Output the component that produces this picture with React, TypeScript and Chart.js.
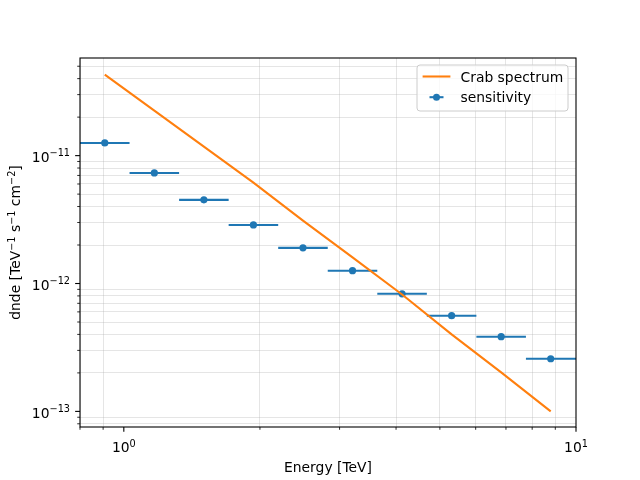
import React, { useEffect, useRef } from "react";
import { Chart, registerables } from "chart.js";

Chart.register(...registerables);

// ---- data ----
const energyLo = [0.8, 1.0296, 1.3251, 1.7054, 2.1948, 2.8247, 3.6354, 4.6787, 6.0214, 7.7495];
const energyHi = [1.0296, 1.3251, 1.7054, 2.1948, 2.8247, 3.6354, 4.6787, 6.0214, 7.7495, 10.0];
const energy = [0.9076, 1.1681, 1.5033, 1.9347, 2.49, 3.2046, 4.1243, 5.3079, 6.8312, 8.7917];
const sensitivity = [1.256e-11, 7.32e-12, 4.51e-12, 2.87e-12, 1.9e-12, 1.26e-12, 8.31e-13, 5.6e-13, 3.84e-13, 2.58e-13];
const crab = [4.3e-11, 2.25e-11, 1.175e-11, 6.15e-12, 3.1e-12, 1.6e-12, 8.2e-13, 4.0e-13, 2.02e-13, 1.0e-13];

const xMajor = [1, 10];
const xMajorExp = ["0", "1"];
const yMajor = [1e-13, 1e-12, 1e-11];
const yMajorExp = ["\u221213", "\u221212", "\u221211"];
const xTickValues = [0.8, 0.9, 1, 2, 3, 4, 5, 6, 7, 8, 9, 10];
const yTickValues = [
  8e-14, 9e-14,
  1e-13, 2e-13, 3e-13, 4e-13, 5e-13, 6e-13, 7e-13, 8e-13, 9e-13,
  1e-12, 2e-12, 3e-12, 4e-12, 5e-12, 6e-12, 7e-12, 8e-12, 9e-12,
  1e-11, 2e-11, 3e-11, 4e-11, 5e-11,
];
const yTitleParts: [string, boolean][] = [
  ["dnde [TeV", false], ["\u22121", true], [" s", false], ["\u22121", true],
  [" cm", false], ["\u22122", true], ["]", false],
];

const BLUE = "#1f77b4";
const ORANGE = "#ff7f0e";
const FONT = "DejaVu Sans";
const FS = 13.89;
const SFS = 9.72;
const GRID = "rgba(176,176,176,0.33)";

const majorIndex = (v: number, majors: number[]) =>
  majors.findIndex((m) => Math.abs(v / m - 1) < 1e-6);

function richWidth(ctx: any, parts: [string, boolean][]) {
  let w = 0;
  parts.forEach(([t, sup]) => {
    ctx.font = `${sup ? SFS : FS}px "${FONT}"`;
    w += ctx.measureText(t).width;
  });
  return w;
}

function drawRich(ctx: any, parts: [string, boolean][], x: number, baseline: number, raise: number) {
  let cx = x;
  parts.forEach(([t, sup]) => {
    ctx.font = `${sup ? SFS : FS}px "${FONT}"`;
    ctx.fillText(t, cx, sup ? baseline - raise : baseline);
    cx += ctx.measureText(t).width;
  });
}

const framePlugin = {
  id: "frame",
  afterDatasetsDraw(chart: any) {
    const ctx = chart.ctx;
    const { left, right, top, bottom } = chart.chartArea;
    const xs = chart.scales.x;
    const ys = chart.scales.y;
    ctx.save();
    ctx.strokeStyle = "#000";
    xs.ticks.forEach((t: any) => {
      const major = majorIndex(t.value, xMajor) >= 0;
      const px = xs.getPixelForValue(t.value);
      ctx.lineWidth = major ? 1.1 : 0.83;
      ctx.beginPath();
      ctx.moveTo(px, bottom);
      ctx.lineTo(px, bottom + (major ? 4.86 : 2.78));
      ctx.stroke();
    });
    ys.ticks.forEach((t: any) => {
      const major = majorIndex(t.value, yMajor) >= 0;
      const py = ys.getPixelForValue(t.value);
      ctx.lineWidth = major ? 1.1 : 0.83;
      ctx.beginPath();
      ctx.moveTo(left, py);
      ctx.lineTo(left - (major ? 4.86 : 2.78), py);
      ctx.stroke();
    });
    ctx.lineWidth = 1.1;
    ctx.strokeRect(left, top, right - left, bottom - top);
    ctx.restore();
  },
  afterDraw(chart: any) {
    const ctx = chart.ctx;
    const { left, top, bottom } = chart.chartArea;
    const xs = chart.scales.x;
    const ys = chart.scales.y;
    ctx.save();
    ctx.fillStyle = "#000";
    ctx.textAlign = "left";
    ctx.textBaseline = "alphabetic";

    // x tick labels
    xMajor.forEach((v, i) => {
      const parts: [string, boolean][] = [["10", false], [xMajorExp[i], true]];
      const w = richWidth(ctx, parts);
      const px = xs.getPixelForValue(v);
      drawRich(ctx, parts, px - w / 2, bottom + 24.7, 5.2);
    });
    // y tick labels
    yMajor.forEach((v, i) => {
      const parts: [string, boolean][] = [["10", false], [yMajorExp[i], true]];
      const w = richWidth(ctx, parts);
      const py = ys.getPixelForValue(v);
      drawRich(ctx, parts, left - 10 - w, py + 6.5, 6.0);
    });
    // y title
    ctx.save();
    const midY = (top + bottom) / 2;
    ctx.translate(20, midY);
    ctx.rotate(-Math.PI / 2);
    const tw = richWidth(ctx, yTitleParts);
    drawRich(ctx, yTitleParts, -tw / 2, 0, 5.5);
    ctx.restore();

    // legend
    const bx = 417, by = 65, bw = 151, bh = 46, r = 3;
    ctx.beginPath();
    ctx.moveTo(bx + r, by);
    ctx.lineTo(bx + bw - r, by);
    ctx.arcTo(bx + bw, by, bx + bw, by + r, r);
    ctx.lineTo(bx + bw, by + bh - r);
    ctx.arcTo(bx + bw, by + bh, bx + bw - r, by + bh, r);
    ctx.lineTo(bx + r, by + bh);
    ctx.arcTo(bx, by + bh, bx, by + bh - r, r);
    ctx.lineTo(bx, by + r);
    ctx.arcTo(bx, by, bx + r, by, r);
    ctx.closePath();
    ctx.fillStyle = "rgba(255,255,255,0.8)";
    ctx.fill();
    ctx.strokeStyle = "#cccccc";
    ctx.lineWidth = 1;
    ctx.stroke();

    ctx.strokeStyle = ORANGE;
    ctx.lineWidth = 2.08;
    ctx.beginPath();
    ctx.moveTo(422.6, 76.5);
    ctx.lineTo(450.4, 76.5);
    ctx.stroke();
    ctx.strokeStyle = BLUE;
    ctx.beginPath();
    ctx.moveTo(429.5, 97.2);
    ctx.lineTo(443.5, 97.2);
    ctx.stroke();
    ctx.fillStyle = BLUE;
    ctx.beginPath();
    ctx.arc(436.5, 97.2, 3.5, 0, Math.PI * 2);
    ctx.fill();

    ctx.fillStyle = "#000";
    ctx.font = `${FS}px "${FONT}"`;
    ctx.fillText("Crab spectrum", 460.5, 81.7);
    ctx.fillText("sensitivity", 460.5, 102.3);
    ctx.restore();
  },
};

export default function App() {
  const ref = useRef<HTMLCanvasElement | null>(null);

  useEffect(() => {
    if (!ref.current) return;
    const bars: any[] = [];
    for (let i = 0; i < energy.length; i++) {
      bars.push({ x: energyLo[i], y: sensitivity[i] });
      bars.push({ x: energyHi[i], y: sensitivity[i] });
      bars.push({ x: energyHi[i], y: null });
    }
    const chart = new Chart(ref.current, {
      type: "scatter",
      data: {
        datasets: [
          {
            label: "Crab spectrum",
            data: energy.map((e, i) => ({ x: e, y: crab[i] })),
            showLine: true,
            borderColor: ORANGE,
            backgroundColor: ORANGE,
            borderWidth: 2.08,
            pointRadius: 0,
          },
          {
            label: "sensitivity bars",
            data: bars,
            showLine: true,
            spanGaps: false,
            borderColor: BLUE,
            borderWidth: 2.08,
            borderCapStyle: "butt",
            pointRadius: 0,
          },
          {
            label: "sensitivity",
            data: energy.map((e, i) => ({ x: e, y: sensitivity[i] })),
            showLine: false,
            pointRadius: 3.6,
            pointBackgroundColor: BLUE,
            pointBorderWidth: 0,
            backgroundColor: BLUE,
          },
        ],
      } as any,
      options: {
        animation: false,
        responsive: true,
        maintainAspectRatio: false,
        layout: { padding: { top: 58, right: 64, left: 0, bottom: 0 } },
        plugins: { legend: { display: false }, tooltip: { enabled: false } },
        scales: {
          x: {
            type: "logarithmic",
            min: 0.8,
            max: 10,
            afterBuildTicks: (s: any) => {
              s.ticks = xTickValues.map((v) => ({ value: v, major: majorIndex(v, xMajor) >= 0 }));
            },
            afterFit: (s: any) => {
              s.height = 53;
            },
            grid: {
              drawTicks: false,
              color: (c: any) =>
                c.tick && majorIndex(c.tick.value, xMajor) >= 0 ? "rgba(0,0,0,0)" : GRID,
              lineWidth: 1,
            },
            border: { display: false },
            ticks: { display: false, autoSkip: false },
            title: {
              display: true,
              text: "Energy [TeV]",
              color: "#000",
              font: { family: FONT, size: FS },
              padding: { top: 0, bottom: 3.2 },
            },
          },
          y: {
            type: "logarithmic",
            min: 7.55e-14,
            max: 5.8e-11,
            afterBuildTicks: (s: any) => {
              s.ticks = yTickValues.map((v) => ({ value: v, major: majorIndex(v, yMajor) >= 0 }));
            },
            afterFit: (s: any) => {
              s.width = 80;
            },
            grid: {
              drawTicks: false,
              color: (c: any) =>
                c.tick && majorIndex(c.tick.value, yMajor) >= 0 ? "rgba(0,0,0,0)" : GRID,
              lineWidth: 1,
            },
            border: { display: false },
            ticks: { display: false, autoSkip: false },
            title: { display: false },
          },
        },
      } as any,
      plugins: [framePlugin],
    });
    return () => chart.destroy();
  }, []);

  return (
    <div style={{ position: "absolute", left: 0, top: 0, width: 640, height: 480, background: "#fff" }}>
      <canvas ref={ref} />
    </div>
  );
}
